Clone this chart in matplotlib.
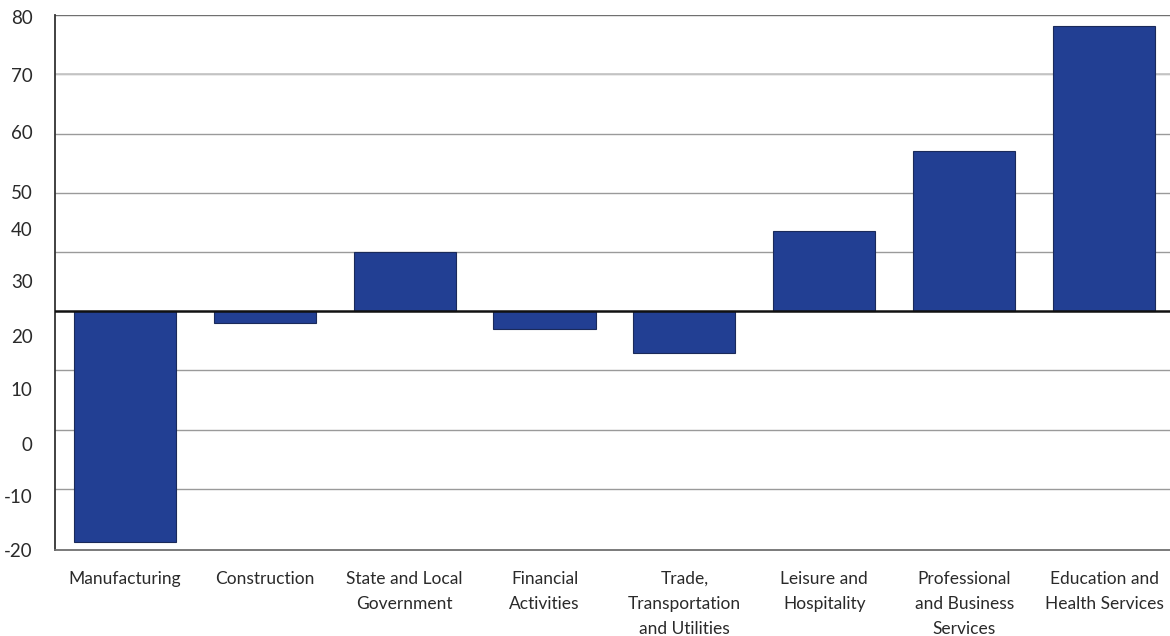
import matplotlib
matplotlib.use("Agg")
import matplotlib.pyplot as plt

# sectors and bar heights (in grid units, baseline at 0)
sectors = ["Manufacturing", "Construction", "State and Local\nGovernment",
           "Financial\nActivities", "Trade,\nTransportation\nand Utilities",
           "Leisure and\nHospitality", "Professional\nand Business\nServices",
           "Education and\nHealth Services"]
values = [-39.0, -1.9, 10.0, -3.0, -7.1, 13.5, 27.1, 48.2]

# the y labels in the source sit off the gridlines; keep them where they are
ytick_labels = ["80", "70", "60", "50", "40", "30", "20", "10", "0", "-10", "-20"]
ytick_pos = [49.7, 39.9, 30.2, 20.2, 13.8, 5.1, -4.2, -13.1, -22.4, -31.2, -40.3]
grid_lines = [-30, -20, -10, 10, 20, 30, 40]

plt.rcParams["font.family"] = ["Lato", "DejaVu Sans"]

fig = plt.figure(figsize=(11.7, 6.36), dpi=100)
ax = fig.add_axes([0.047, 0.1352, 0.9564, 0.8412])

for g in grid_lines:
    ax.axhline(g, color="#9a9a9a", lw=1.0, zorder=0)
ax.axhline(40, color="#c8c8c8", lw=1.3, zorder=0)
ax.axhline(50, color="#707070", lw=1.0, zorder=0)
ax.axhline(0, color="#111111", lw=1.8, zorder=3)

x = range(len(sectors))
ax.bar(x, values, width=0.73, color="#223f93", edgecolor="#1a2a5a",
       linewidth=0.8, zorder=2)

ax.set_xlim(-0.5, 7.5)
ax.set_ylim(-40, 50)
ax.set_xticks(list(x))
ax.set_xticklabels(sectors, fontsize=12.5, color="#2a2a2a", linespacing=1.7)
ax.set_yticks(ytick_pos)
ax.set_yticklabels(ytick_labels, fontsize=13.5, color="#2a2a2a")
ax.tick_params(axis="both", length=0)
ax.tick_params(axis="x", pad=15)
ax.tick_params(axis="y", pad=16)

for s in ["top", "right"]:
    ax.spines[s].set_visible(False)
ax.spines["left"].set_color("#333333")
ax.spines["left"].set_linewidth(1.3)
ax.spines["bottom"].set_color("#707070")
ax.spines["bottom"].set_linewidth(1.3)

fig.savefig("out.png", dpi=100)
